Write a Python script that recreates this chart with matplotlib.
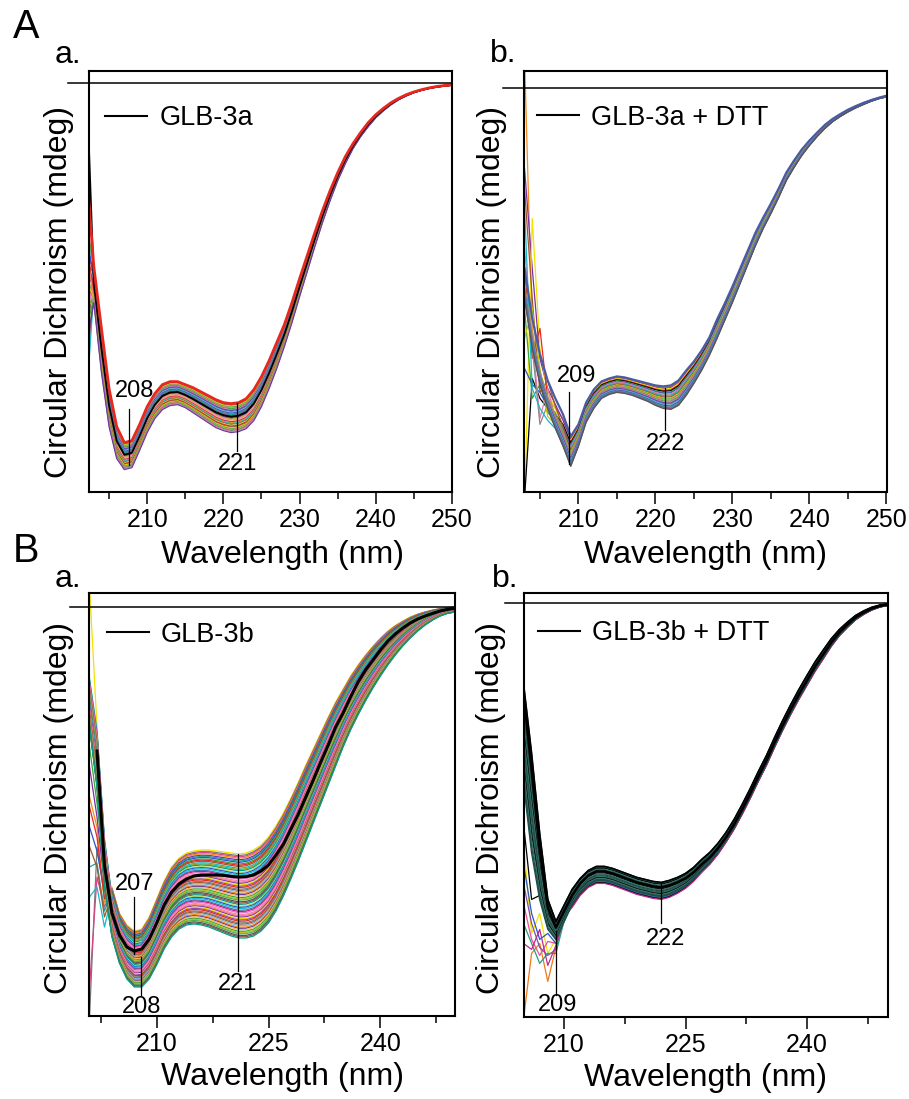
import numpy as np
import matplotlib
matplotlib.use("Agg")
import matplotlib.pyplot as plt
from matplotlib.lines import Line2D
from matplotlib.ticker import FixedLocator, NullLocator

plt.rcParams["font.family"] = ["Liberation Sans", "DejaVu Sans"]

FIG_W, FIG_H = 909, 1099

# ---------------------------------------------------------------- data
# A.a  GLB-3a, 202-250 nm, band of spectra between an upper and a lower trace
WL_AA = list(range(202, 251))
UPPER_AA = [-4.5, -9.2, -12.3, -15.3, -17.2, -18.0, -17.9, -17.1, -16.2, -15.55,
            -15.1, -14.95, -14.95, -15.1, -15.25, -15.45, -15.65, -15.85, -16.0, -16.05,
            -16.0, -15.8, -15.35, -14.7, -13.9, -13.0, -12.1, -11.0, -9.8, -8.65,
            -7.5, -6.4, -5.4, -4.5, -3.7, -3.05, -2.5, -2.0, -1.6, -1.28,
            -1.0, -0.78, -0.6, -0.46, -0.35, -0.26, -0.19, -0.14, -0.1]
LOWER_AA = [-6.0, -11.0, -14.5, -17.2, -18.8, -19.35, -19.25, -18.4, -17.5, -16.8,
            -16.35, -16.15, -16.1, -16.25, -16.5, -16.75, -17.0, -17.25, -17.4, -17.5,
            -17.45, -17.3, -16.9, -16.2, -15.3, -14.3, -13.2, -12.0, -10.7, -9.45,
            -8.2, -7.0, -5.9, -4.9, -4.05, -3.3, -2.7, -2.2, -1.75, -1.4,
            -1.1, -0.85, -0.66, -0.5, -0.38, -0.29, -0.22, -0.17, -0.13]
FRAC_AA = [0.03, 0.06, 0.09, 0.12, 0.15, 0.18, 0.21, 0.24, 0.27, 0.3, 0.33, 0.36, 0.39,
           0.42, 0.48, 0.51, 0.54, 0.57, 0.6, 0.63, 0.66, 0.69, 0.72, 0.75, 0.78, 0.81,
           0.84, 0.87, 0.9, 0.93, 0.96, 1.0]
START_AA = [-7.0, -8.5, -10.2, -6.8, -11.5, -9.0, -12.0, -8.0, -13.5, -10.8, -7.5, -11.0,
            -9.6, -14.5, -12.5, -8.8, -10.0, -15.5, -11.8, -9.3, -13.0, -16.0, -10.5,
            -12.8, -7.8, -14.0, -9.9, -11.2, -8.3, -12.2, -10.6, -13.2]
BLACK_FRAC_AA = 0.45
BLACK_START_AA = 0.5
RED_START_AA = -4.2

# A.b  GLB-3a + DTT, 203-250 nm
WL_AB = list(range(203, 251))
UPPER_AB = [-9.0, -11.5, -13.3, -14.6, -15.5, -16.3, -17.4, -16.8, -15.7, -15.05,
            -14.65, -14.5, -14.4, -14.45, -14.55, -14.65, -14.75, -14.85, -14.9, -14.85,
            -14.6, -14.1, -13.65, -13.1, -12.45, -11.55, -10.75, -9.9, -9.0, -8.1,
            -7.2, -6.45, -5.75, -5.0, -4.2, -3.6, -3.05, -2.6, -2.2, -1.82,
            -1.52, -1.28, -1.06, -0.88, -0.72, -0.58, -0.46, -0.36]
LOWER_AB = [-10.5, -13.0, -14.8, -16.0, -17.0, -17.9, -18.9, -17.9, -16.7, -16.0,
            -15.5, -15.3, -15.2, -15.25, -15.35, -15.5, -15.65, -15.85, -16.0, -16.05,
            -15.85, -15.35, -14.75, -14.1, -13.35, -12.5, -11.6, -10.7, -9.75, -8.8,
            -7.85, -7.0, -6.25, -5.45, -4.6, -3.95, -3.35, -2.85, -2.4, -2.0,
            -1.66, -1.4, -1.17, -0.97, -0.8, -0.64, -0.51, -0.42]
FRAC_AB = [0.04, 0.09, 0.13, 0.18, 0.22, 0.27, 0.31, 0.35, 0.4, 0.44, 0.48, 0.53,
           0.57, 0.61, 0.66, 0.7, 0.74, 0.78, 0.82, 0.86, 0.9, 0.94, 0.97, 1.0]
# noisy start (203-208 nm) of the first traces
NOISE_AB = [[1.5, -12.0, -14.5, -15.5, -16.0, -16.5],
            [-4.0, -9.0, -13.5, -15.0, -15.8, -16.6],
            [-21.0, -6.5, -13.0, -15.2, -16.0, -17.0],
            [-9.0, -13.5, -12.0, -15.5, -16.5, -17.2],
            [-20.5, -14.5, -15.5, -16.0, -16.3, -16.8],
            [-11.0, -15.5, -14.8, -16.2, -16.6, -17.4],
            [-14.0, -14.8, -15.2, -15.9, -16.4, -17.0],
            [-8.0, -12.5, -16.5, -15.0, -16.5, -17.2],
            [-10.0, -13.0, -16.8, -15.8, -16.2, -17.1],
            [-6.0, -15.0, -16.0, -16.6, -17.0, -17.8],
            [-5.0, -10.5, -15.2, -14.6, -15.9, -16.9],
            [-12.5, -11.0, -14.0, -16.4, -16.8, -17.5]]
NOISE_COLORS_AB = ["#f28a1e", "#7b2f9e", "#f2e200", "#e8281e", "#000000", "#3aa33a",
                   "#2b55c8", "#e87ab8", "#8a8a8a", "#18b8c8", "#a0522d", "#c8c800"]

# B.a  GLB-3b, 201-250 nm
WL_BA = list(range(201, 251))
UPPER_BA = [-3.0, -5.5, -11.0, -14.0, -15.3, -15.9, -16.2, -16.1, -15.5, -14.6,
            -13.7, -13.0, -12.55, -12.3, -12.2, -12.15, -12.15, -12.2, -12.25, -12.3,
            -12.35, -12.3, -12.15, -11.9, -11.5, -10.95, -10.3, -9.55, -8.75, -7.9,
            -7.1, -6.3, -5.5, -4.75, -4.1, -3.45, -2.9, -2.4, -1.95, -1.55,
            -1.2, -0.92, -0.7, -0.5, -0.35, -0.24, -0.15, -0.08, -0.03, 0.0]
BLACK_BA = [np.nan, -7.2, -12.9, -15.3, -16.4, -17.0, -17.2, -17.1, -16.6, -15.8,
            -14.9, -14.25, -13.85, -13.6, -13.45, -13.4, -13.4, -13.4, -13.42, -13.47,
            -13.5, -13.48, -13.4, -13.2, -12.9, -12.4, -11.85, -11.1, -10.35, -9.5,
            -8.65, -7.75, -6.9, -6.0, -5.3, -4.5, -3.75, -3.15, -2.65, -2.15,
            -1.7, -1.35, -1.05, -0.8, -0.6, -0.45, -0.32, -0.2, -0.12, -0.06]
LOWER_BA = [-6.0, -9.0, -14.0, -16.5, -17.8, -18.6, -19.0, -19.0, -18.6, -17.9,
            -17.1, -16.5, -16.1, -15.9, -15.85, -15.9, -16.0, -16.15, -16.3, -16.45,
            -16.55, -16.55, -16.45, -16.2, -15.8, -15.2, -14.45, -13.6, -12.7, -11.75,
            -10.8, -9.85, -8.9, -7.95, -7.0, -6.15, -5.4, -4.7, -4.05, -3.45,
            -2.9, -2.4, -1.95, -1.55, -1.2, -0.9, -0.65, -0.45, -0.32, -0.25]
FRAC_BA = [0.0, 0.02, 0.035, 0.05, 0.07, 0.085, 0.1, 0.12, 0.135, 0.15, 0.17, 0.185,
           0.2, 0.22, 0.235, 0.25, 0.27, 0.285, 0.3, 0.32, 0.335, 0.35, 0.37, 0.385,
           0.4, 0.42, 0.435, 0.45, 0.47, 0.485, 0.5, 0.52, 0.535, 0.55, 0.57, 0.585,
           0.6, 0.62, 0.635, 0.65, 0.67, 0.685, 0.7, 0.72, 0.735, 0.75, 0.77, 0.785,
           0.8, 0.82, 0.835, 0.85, 0.87, 0.885, 0.9, 0.92, 0.935, 0.95, 0.97, 0.985, 1.0]
# noisy start (201-203 nm) of the first traces
NOISE_BA = [[1.0, -6.0, -13.5], [-20.5, -12.0, -14.5], [-19.0, -13.5, -15.0],
            [-9.5, -11.0, -14.8], [-8.0, -10.5, -13.9], [-13.0, -12.8, -15.2],
            [-11.0, -12.2, -14.2], [-7.0, -9.8, -13.2], [-10.0, -11.5, -14.6],
            [-12.0, -13.0, -15.5], [-14.5, -14.0, -16.0], [-6.0, -9.0, -12.8]]
NOISE_COLORS_BA = ["#f2e200", "#7a7a7a", "#d8448a", "#f28a1e", "#7b2f9e", "#2a9d9a",
                   "#2b55c8", "#3aa33a", "#e8281e", "#9a5a2a", "#18b8c8", "#9aa020"]

# B.b  GLB-3b + DTT, 205-250 nm
WL_BB = list(range(205, 251))
UPPER_BB = [-4.0, -7.5, -11.5, -14.8, -15.9, -15.1, -14.3, -13.75, -13.35, -13.15,
            -13.15, -13.25, -13.4, -13.55, -13.7, -13.8, -13.9, -13.95, -13.85, -13.7,
            -13.5, -13.2, -12.8, -12.45, -12.0, -11.45, -10.8, -10.05, -9.25, -8.4,
            -7.6, -6.7, -5.85, -5.05, -4.3, -3.6, -2.92, -2.33, -1.76, -1.3,
            -0.93, -0.6, -0.37, -0.19, -0.08, -0.02]
BLACK_BB = [-4.5, -8.3, -12.3, -15.2, -16.2, -15.4, -14.6, -14.0, -13.6, -13.4,
            -13.4, -13.5, -13.65, -13.8, -13.95, -14.05, -14.15, -14.2, -14.1, -13.95,
            -13.75, -13.45, -13.05, -12.7, -12.25, -11.7, -11.05, -10.3, -9.5, -8.65,
            -7.85, -6.95, -6.1, -5.3, -4.55, -3.85, -3.15, -2.55, -1.95, -1.45,
            -1.05, -0.7, -0.45, -0.25, -0.12, -0.05]
LOWER_BB = [-10.0, -13.5, -15.5, -16.6, -17.0, -16.1, -15.2, -14.6, -14.2, -14.0,
            -14.0, -14.1, -14.25, -14.4, -14.55, -14.65, -14.75, -14.8, -14.7, -14.5,
            -14.25, -13.9, -13.45, -13.05, -12.55, -11.95, -11.3, -10.55, -9.75, -8.9,
            -8.1, -7.2, -6.35, -5.55, -4.8, -4.1, -3.4, -2.78, -2.15, -1.62,
            -1.2, -0.82, -0.55, -0.33, -0.18, -0.1]
FRAC_BB = [0.0, 0.06, 0.11, 0.17, 0.22, 0.28, 0.33, 0.39, 0.44, 0.5, 0.56, 0.61,
           0.67, 0.72, 0.78, 0.83]
FRAC_BB_NOISY = [0.7, 0.75, 0.8, 0.85, 0.88, 0.92, 0.96, 1.0]
# noisy start (205-210 nm) of the coloured traces
NOISE_BB = [[-12.0, -16.5, -15.5, -17.5, -16.8, -15.6],
            [-15.0, -16.8, -17.6, -16.9, -17.0, -15.7],
            [-20.8, -17.5, -17.0, -18.9, -17.2, -15.8],
            [-14.0, -16.0, -17.2, -17.6, -17.3, -15.7],
            [-16.0, -17.0, -18.0, -17.5, -17.5, -15.9],
            [-13.0, -15.5, -16.8, -16.5, -17.0, -15.6],
            [-11.0, -14.8, -14.6, -16.0, -16.5, -15.5],
            [-17.0, -17.3, -16.3, -18.1, -17.1, -15.7]]
NOISE_COLORS_BB = ["#f2e200", "#e8509a", "#f07818", "#7b4fae", "#2a9d7a",
                   "#2b55c8", "#000000", "#c02a8a"]
TEAL_BB = ["#1d4d47", "#2f6f66", "#000000", "#3b7a70", "#264f49"]

PALETTE = ["#e8281e", "#3aa33a", "#2b55c8", "#8e3fa8", "#f28a1e", "#8c564b", "#e377c2",
           "#7f7f7f", "#bcbd22", "#17becf", "#e6d800", "#6a3d9a", "#00a087", "#f781bf",
           "#a65628", "#4daf4a", "#377eb8", "#984ea3", "#fdb462", "#b3de69", "#fb8072",
           "#80b1d3", "#555555", "#c51b7d"]


def mix(upper, lower, f):
    upper = np.asarray(upper, dtype=float)
    lower = np.asarray(lower, dtype=float)
    return upper + f * (lower - upper)


def add_axes(fig, left, top, right, bottom):
    return fig.add_axes([left / FIG_W, 1 - bottom / FIG_H,
                         (right - left) / FIG_W, (bottom - top) / FIG_H])


def style(ax, xlim, ylim, major, minor, zero_ext, xlab, ylab):
    ax.set_xlim(*xlim)
    ax.set_ylim(*ylim)
    ax.xaxis.set_major_locator(FixedLocator(major))
    ax.xaxis.set_minor_locator(FixedLocator(minor))
    ax.yaxis.set_major_locator(NullLocator())
    ax.tick_params(axis="x", which="major", length=8.6, width=1.1, labelsize=18, pad=3)
    ax.tick_params(axis="x", which="minor", length=5, width=1.1)
    for sp in ax.spines.values():
        sp.set_linewidth(1.5)
    ax.axhline(0, xmin=zero_ext, xmax=1, color="black", lw=1.1, clip_on=False, zorder=5)
    ax.set_xlabel("Wavelength (nm)", fontsize=23, va="center")
    ax.xaxis.set_label_coords(*xlab)
    ax.set_ylabel("Circular Dichroism (mdeg)", fontsize=23, va="center")
    ax.yaxis.set_label_coords(*ylab)


def legend(ax, text, x, y):
    h = Line2D([], [], color="black", lw=1.5)
    ax.legend([h], [text], loc="center left", bbox_to_anchor=(x, y), frameon=False,
              fontsize=19.5, handlelength=1.55, handletextpad=0.45,
              borderpad=0, borderaxespad=0)


def mark(ax, label, lx, ly, x, y0, y1):
    ax.plot([x, x], [y0, y1], color="black", lw=0.9, zorder=6)
    ax.text(lx, ly, label, fontsize=17, ha="center", va="center", zorder=6)


fig = plt.figure(figsize=(FIG_W / 100, FIG_H / 100), dpi=100)

# ---------------------------------------------------------------- A.a
ax = add_axes(fig, 88.5, 71, 452, 492)
wl = np.array(WL_AA)
for i, (f, s) in enumerate(zip(FRAC_AA, START_AA)):
    y = mix(UPPER_AA, LOWER_AA, f)
    y[0] = s
    ax.plot(wl, y, color=PALETTE[(i * 5) % len(PALETTE)], lw=0.9)
y = mix(UPPER_AA, LOWER_AA, BLACK_FRAC_AA)
y[0] = BLACK_START_AA
ax.plot(wl, y, color="black", lw=1.3)
y = mix(UPPER_AA, LOWER_AA, 0.0)
y[0] = RED_START_AA
ax.plot(wl, y, color="#e8281e", lw=2.0)
style(ax, (202.3, 250), (-20.47, 0.585), [210, 220, 230, 240, 250],
      [205, 215, 225, 235, 245], -0.0556, (0.535, -0.15), (-0.081, 0.475))
legend(ax, "GLB-3a", 0.0454, 0.888)
mark(ax, "208", 208.4, -15.4, 207.6, -16.3, -19.1)
mark(ax, "221", 221.9, -19.05, 221.8, -16.0, -18.4)

# ---------------------------------------------------------------- A.b
ax = add_axes(fig, 524, 70.5, 886.5, 492)
wl = np.array(WL_AB)
for i, f in enumerate(FRAC_AB):
    y = mix(UPPER_AB, LOWER_AB, f)
    color = PALETTE[(i * 5 + 3) % len(PALETTE)]
    if i < len(NOISE_AB):
        y[:6] = NOISE_AB[i]
        color = NOISE_COLORS_AB[i]
    ax.plot(wl, y, color=color, lw=0.9)
ax.plot(wl, UPPER_AB, color="#4a5ba6", lw=1.6)
style(ax, (202.93, 250), (-20.18, 0.9), [210, 220, 230, 240, 250],
      [205, 215, 225, 235, 245], -0.057, (0.5, -0.15), (-0.088, 0.475))
legend(ax, "GLB-3a + DTT", 0.0359, 0.888)
mark(ax, "209", 209.8, -14.4, 208.8, -15.2, -18.8)
mark(ax, "222", 221.3, -17.8, 221.3, -15.0, -17.1)

# ---------------------------------------------------------------- B.a
ax = add_axes(fig, 88.8, 593.3, 455, 1016)
wl = np.array(WL_BA)
for i, f in enumerate(FRAC_BA):
    y = mix(UPPER_BA, LOWER_BA, f)
    color = PALETTE[(i * 7) % len(PALETTE)]
    if i < len(NOISE_BA):
        y[:3] = NOISE_BA[i]
        color = NOISE_COLORS_BA[i]
    ax.plot(wl, y, color=color, lw=0.9)
ax.plot(wl, BLACK_BA, color="black", lw=2.2)
style(ax, (200.9, 250), (-20.45, 0.685), [210, 225, 240],
      [202.5, 217.5, 232.5, 247.5], -0.051, (0.53, -0.145), (-0.081, 0.492))
legend(ax, "GLB-3b", 0.0489, 0.9025)
mark(ax, "207", 207.06, -13.85, 206.9, -14.5, -17.35)
mark(ax, "208", 207.97, -20.0, 207.9, -17.5, -19.4)
mark(ax, "221", 220.9, -18.85, 220.9, -12.35, -18.2)

# ---------------------------------------------------------------- B.b
ax = add_axes(fig, 523.5, 593, 888, 1017)
wl = np.array(WL_BB)
for i, f in enumerate(FRAC_BB_NOISY):
    y = mix(UPPER_BB, LOWER_BB, f)
    y[:6] = NOISE_BB[i]
    ax.plot(wl, y, color=NOISE_COLORS_BB[i], lw=0.9)
for i, f in enumerate(FRAC_BB):
    ax.plot(wl, mix(UPPER_BB, LOWER_BB, f), color=TEAL_BB[i % len(TEAL_BB)], lw=1.0)
ax.plot(wl, UPPER_BB, color="black", lw=1.2)
ax.plot(wl, BLACK_BB, color="black", lw=1.8)
style(ax, (205, 250), (-20.68, 0.525), [210, 225, 240],
      [217.5, 232.5, 247.5], -0.052, (0.5, -0.143), (-0.088, 0.492))
legend(ax, "GLB-3b + DTT", 0.0398, 0.9045)
mark(ax, "209", 209.2, -20.1, 209.0, -16.4, -19.6)
mark(ax, "222", 222.5, -16.8, 222.0, -14.0, -16.0)

# ---------------------------------------------------------------- panel letters
fig.text(13 / FIG_W, 1 - 38 / FIG_H, "A", fontsize=28.5, va="baseline")
fig.text(13 / FIG_W, 1 - 562 / FIG_H, "B", fontsize=28.5, va="baseline")
fig.text(55 / FIG_W, 1 - 63 / FIG_H, "a.", fontsize=23, va="baseline")
fig.text(490 / FIG_W, 1 - 62 / FIG_H, "b.", fontsize=23, va="baseline")
fig.text(55 / FIG_W, 1 - 587 / FIG_H, "a.", fontsize=23, va="baseline")
fig.text(492 / FIG_W, 1 - 587 / FIG_H, "b.", fontsize=23, va="baseline")

fig.savefig("out.png", dpi=100)
